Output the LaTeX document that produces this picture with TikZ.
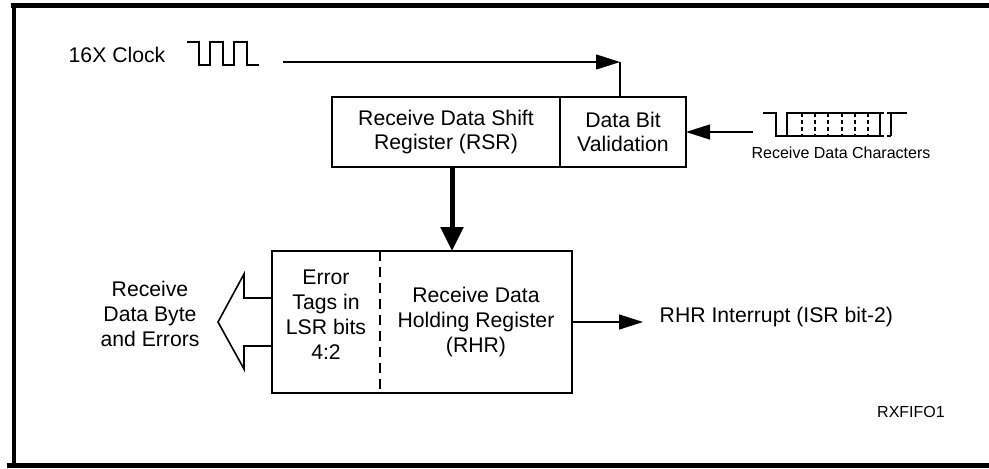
\documentclass[tikz,border=0pt]{standalone}
\usepackage{fontspec}
\setmainfont{Liberation Sans}
\usepackage{tikz}
\usetikzlibrary{arrows.meta}
\usetikzlibrary{positioning}

\newcommand{\lblfont}{\fontsize{10.6pt}{12.4pt}\selectfont}
\newcommand{\smalllbl}{\fontsize{8pt}{9.6pt}\selectfont}

\begin{document}
\begin{tikzpicture}[x=0.5pt,y=-0.5pt,>={Triangle[length=12pt,width=7.5pt]},
  font=\lblfont,line width=0.7pt,
  box/.style={rectangle,draw,line width=1pt,outer sep=0pt,align=center,minimum height=35pt},
  area/.style={rectangle,outer sep=0pt,minimum height=71pt,align=center},
  txt/.style={align=center,inner sep=0pt},
  wave/.style={line width=0.6pt},
  ticks/.style={wave,dash pattern=on 2pt off 1.5pt},
  frame/.style={line width=2.5pt},
  bus/.style={line width=2.5pt,-{Triangle[length=12pt,width=11pt]}}]

  \useasboundingbox (0,0) rectangle (989,468);

  \draw[frame] (11,5.8) -- (989,5.8);
  \draw[frame,line width=2.2pt] (14,3) -- (14,468);
  \draw[frame] (7,465.5) -- (989,465.5);

  \node[box,minimum width=114pt] (rsr) at (446,132) {Receive Data Shift\\Register (RSR)};
  \node[box,minimum width=63pt] (dbv) [right=0pt of rsr] {Data Bit\\Validation};

  \node[area,minimum width=54pt] (err) at (326,322) {};
  \node[area,minimum width=96pt] (rhr) [right=0pt of err] {Receive Data\\Holding Register\\(RHR)};
  \node[txt] (errtxt) at ([yshift=3.75pt]err.center) {Error\\Tags in\\LSR bits\\4:2};
  \draw[line width=1pt] (err.north west) rectangle (rhr.south east);
  \draw[line width=1pt,dash pattern=on 5pt off 3pt] (err.north east) -- (err.south east);

  \node[anchor=base] (clk) at (117,62) {16X Clock};
  \draw[wave] (187,42) -- (199,42) -- (199,65) -- (210,65) -- (210,42) -- (223,42) -- (223,65)
    -- (234,65) -- (234,42) -- (247,42) -- (247,65) -- (259,65);
  \coordinate (clkin) at (283,62);
  \coordinate (clkend) at (620,62);
  \draw[->] (clkin) -- (clkend);
  \draw (clkend) -- (clkend |- dbv.north);

  \draw[wave] (763,113) -- (776,113) -- (776,136) -- (880,136);
  \draw[wave] (787,136) -- (787,113) -- (880,113) -- (880,136);
  \foreach \x in {802,815,828,842,855,868}
    \draw[ticks] (\x,113) -- (\x,136);
  \draw[ticks] (880,113) -- (891,113) (880,136) -- (891,136);
  \draw[wave] (891,136) -- (891,113) -- (907,113);
  \node[anchor=base,font=\smalllbl] (rxlbl) at (841,158) {Receive Data Characters};
  \coordinate (rxin) at (753,132);
  \draw[->] (rxin) -- (dbv.east);

  \coordinate (busin) at ([xshift=3pt]rsr.south);
  \draw[bus] (busin) -- (busin |- err.north);

  \node[anchor=base west,inner xsep=8pt] (irq) at (643,322) {RHR Interrupt (ISR bit-2)};
  \draw[->] (rhr.east) -- (rhr.east -| irq.west);

  \draw[line width=0.8pt] (err.west) ++(0,-24) -- ++(-28,0) -- ++(0,-24) -- ++(-26,48)
    -- ++(26,47) -- ++(0,-23) -- ++(28,0);
  \node[txt] (out) at (150,314) {Receive\\Data Byte\\and Errors};

  \node[anchor=base,font=\smalllbl] (tag) at (911,417) {RXFIFO1};

\end{tikzpicture}
\end{document}
